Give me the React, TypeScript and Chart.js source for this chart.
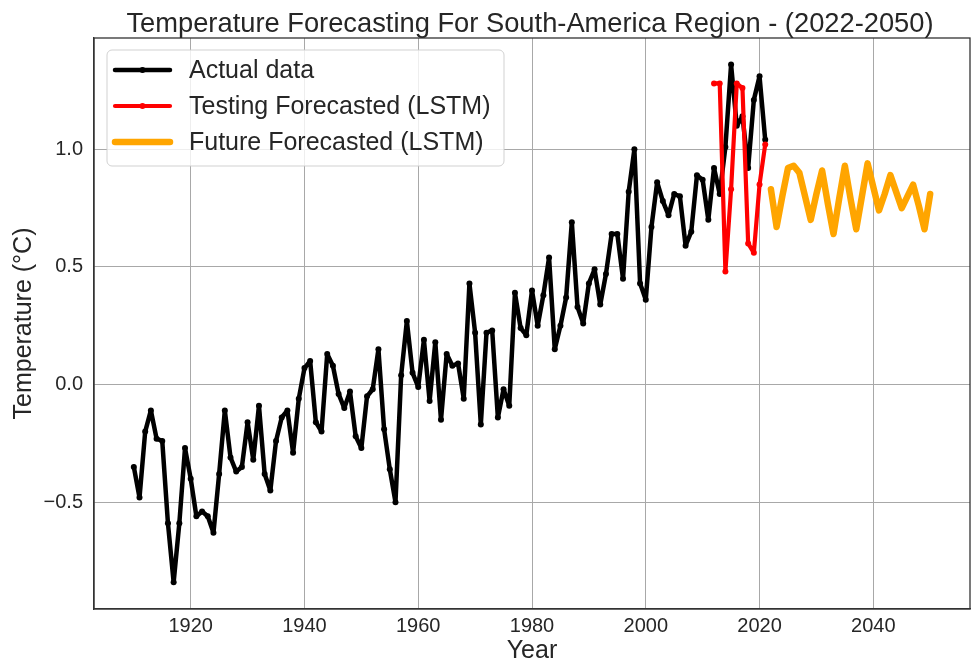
import { useEffect, useRef } from "react";
import { Chart, registerables } from "chart.js";

Chart.register(...registerables);

const TITLE = "Temperature Forecasting For South-America Region - (2022-2050)";
const X_LABEL = "Year";
const Y_LABEL = "Temperature (°C)";
const SERIES_NAMES = ["Actual data", "Testing Forecasted (LSTM)", "Future Forecasted (LSTM)"];

const ACTUAL_START = 1910;
const ACTUAL = [
  -0.35, -0.48, -0.2, -0.11, -0.23, -0.24, -0.59, -0.84, -0.59, -0.27,
  -0.4, -0.56, -0.54, -0.56, -0.63, -0.38, -0.11, -0.31, -0.37, -0.35,
  -0.16, -0.32, -0.09, -0.38, -0.45, -0.24, -0.14, -0.11, -0.29, -0.06,
  0.07, 0.1, -0.16, -0.2, 0.13, 0.08, -0.04, -0.1, -0.03, -0.22,
  -0.27, -0.05, -0.02, 0.15, -0.19, -0.36, -0.5, 0.04, 0.27, 0.05,
  -0.01, 0.19, -0.07, 0.18, -0.15, 0.13, 0.08, 0.09, -0.06, 0.43,
  0.22, -0.17, 0.22, 0.23, -0.14, -0.02, -0.09, 0.39, 0.24, 0.21,
  0.4, 0.25, 0.38, 0.54, 0.15, 0.25, 0.37, 0.69, 0.33, 0.26,
  0.43, 0.49, 0.34, 0.47, 0.64, 0.64, 0.45, 0.82, 1.0, 0.43,
  0.36, 0.67, 0.86, 0.78, 0.72, 0.81, 0.8, 0.59, 0.65, 0.89,
  0.87, 0.7, 0.92, 0.81, 1.01, 1.36, 1.1, 1.14, 0.92, 1.21,
  1.31, 1.04,
];

const TEST_START = 2012;
const TEST = [1.28, 1.28, 0.48, 0.83, 1.28, 1.26, 0.6, 0.56, 0.85, 1.02];

const FUTURE_START = 2022;
const FUTURE = [
  0.83, 0.67, 0.8, 0.92, 0.93, 0.9, 0.8, 0.7, 0.81, 0.91,
  0.77, 0.64, 0.79, 0.93, 0.79, 0.66, 0.8, 0.94, 0.84, 0.74,
  0.81, 0.89, 0.82, 0.75, 0.8, 0.85, 0.76, 0.66, 0.81,
];

const X_TICKS = [1920, 1940, 1960, 1980, 2000, 2020, 2040];
const Y_TICKS = [-0.5, 0.0, 0.5, 1.0];
const X_MIN = 1903;
const X_MAX = 2057;
const Y_MIN = -0.954;
const Y_MAX = 1.473;

const COLORS = ["#000000", "#ff0000", "#ffa500"];
const FONT = '"Liberation Sans", Arial, sans-serif';
const TEXT = "#262626";
const SPINE = "#333333";

const toXY = (start: number, values: number[]) => values.map((y, i) => ({ x: start + i, y }));

const titlePlugin = {
  id: "mplTitle",
  afterDraw(chart: any) {
    const { ctx, chartArea } = chart;
    ctx.save();
    ctx.fillStyle = TEXT;
    ctx.font = `27.3px ${FONT}`;
    ctx.textAlign = "center";
    ctx.textBaseline = "alphabetic";
    ctx.fillText(TITLE, (chartArea.left + chartArea.right) / 2 - 2, 32);
    ctx.restore();
  },
};

const framePlugin = {
  id: "mplFrame",
  afterDatasetsDraw(chart: any) {
    const { ctx, chartArea } = chart;
    ctx.save();
    ctx.strokeStyle = SPINE;
    ctx.lineWidth = 1.3;
    ctx.strokeRect(chartArea.left, chartArea.top, chartArea.right - chartArea.left, chartArea.bottom - chartArea.top);
    ctx.restore();
  },
};

const legendPlugin = {
  id: "mplLegend",
  afterDatasetsDraw(chart: any) {
    const { ctx, chartArea } = chart;
    const bx = chartArea.left + 13;
    const by = chartArea.top + 12;
    const bw = 397;
    const bh = 116;
    ctx.save();
    ctx.beginPath();
    ctx.roundRect(bx, by, bw, bh, 5);
    ctx.fillStyle = "rgba(255,255,255,0.8)";
    ctx.fill();
    ctx.strokeStyle = "rgba(204,204,204,0.9)";
    ctx.lineWidth = 1;
    ctx.stroke();
    chart.data.datasets.forEach((ds: any, i: number) => {
      const y = by + 20 + i * 36;
      const x0 = bx + 8;
      const x1 = bx + 63;
      ctx.beginPath();
      ctx.moveTo(x0, y);
      ctx.lineTo(x1, y);
      ctx.strokeStyle = ds.borderColor;
      ctx.lineWidth = ds.borderWidth;
      ctx.lineCap = "round";
      ctx.stroke();
      if (ds.pointRadius > 0) {
        ctx.beginPath();
        ctx.arc((x0 + x1) / 2, y, ds.pointRadius, 0, Math.PI * 2);
        ctx.fillStyle = ds.borderColor;
        ctx.fill();
      }
      ctx.fillStyle = TEXT;
      ctx.font = `25px ${FONT}`;
      ctx.textAlign = "left";
      ctx.textBaseline = "middle";
      ctx.fillText(ds.label, bx + 82, y + 1);
    });
    ctx.restore();
  },
};

export default function App() {
  const canvasRef = useRef<HTMLCanvasElement | null>(null);

  useEffect(() => {
    if (!canvasRef.current) return;
    const chart = new Chart(canvasRef.current, {
      type: "line",
      data: {
        datasets: [
          {
            label: SERIES_NAMES[0],
            data: toXY(ACTUAL_START, ACTUAL),
            borderColor: COLORS[0],
            backgroundColor: COLORS[0],
            borderWidth: 4.5,
            pointRadius: 3,
            pointBorderWidth: 0,
            pointBackgroundColor: COLORS[0],
            borderJoinStyle: "round",
            borderCapStyle: "round",
            tension: 0,
            order: 2,
          },
          {
            label: SERIES_NAMES[1],
            data: toXY(TEST_START, TEST),
            borderColor: COLORS[1],
            backgroundColor: COLORS[1],
            borderWidth: 4.2,
            pointRadius: 3,
            pointBorderWidth: 0,
            pointBackgroundColor: COLORS[1],
            borderJoinStyle: "round",
            borderCapStyle: "round",
            tension: 0,
            order: 0,
          },
          {
            label: SERIES_NAMES[2],
            data: toXY(FUTURE_START, FUTURE),
            borderColor: COLORS[2],
            backgroundColor: COLORS[2],
            borderWidth: 6.5,
            pointRadius: 0,
            borderJoinStyle: "round",
            borderCapStyle: "round",
            tension: 0,
            order: 1,
          },
        ],
      },
      options: {
        animation: false,
        responsive: false,
        maintainAspectRatio: false,
        layout: { padding: { top: 38, right: 3, left: 0, bottom: 0 } },
        plugins: {
          legend: { display: false },
          tooltip: { enabled: false },
          title: { display: false },
        },
        scales: {
          x: {
            type: "linear",
            min: X_MIN,
            max: X_MAX,
            afterBuildTicks: (scale: any) => {
              scale.ticks = X_TICKS.map((v) => ({ value: v }));
            },
            afterFit: (scale: any) => {
              scale.height = 53;
            },
            ticks: {
              autoSkip: false,
              maxRotation: 0,
              minRotation: 0,
              padding: 5,
              color: TEXT,
              font: { family: FONT, size: 20 },
              callback: (v: any) => String(v),
            },
            grid: { color: "#a8a8a8", lineWidth: 1, drawTicks: false },
            border: { color: SPINE, width: 1.3 },
            title: {
              display: true,
              text: X_LABEL,
              color: TEXT,
              font: { family: FONT, size: 25, lineHeight: 0.9 },
              padding: { top: 0, bottom: 0 },
            },
          },
          y: {
            type: "linear",
            min: Y_MIN,
            max: Y_MAX,
            afterBuildTicks: (scale: any) => {
              scale.ticks = Y_TICKS.map((v) => ({ value: v }));
            },
            afterFit: (scale: any) => {
              scale.width = 94;
            },
            ticks: {
              padding: 11,
              color: TEXT,
              font: { family: FONT, size: 20 },
              callback: (v: any) => Number(v).toFixed(1).replace("-", "\u2212"),
            },
            grid: { color: "#a8a8a8", lineWidth: 1, drawTicks: false },
            border: { color: SPINE, width: 1.3 },
            title: {
              display: true,
              text: Y_LABEL,
              color: TEXT,
              font: { family: FONT, size: 25, lineHeight: 1.2 },
              padding: { top: 9, bottom: 0 },
            },
          },
        },
      },
      plugins: [titlePlugin, framePlugin, legendPlugin],
    } as any);
    return () => chart.destroy();
  }, []);

  return (
    <div style={{ position: "absolute", left: 0, top: 0, width: 974, height: 662, background: "#fff" }}>
      <canvas ref={canvasRef} width={974} height={662} style={{ display: "block" }} />
    </div>
  );
}
